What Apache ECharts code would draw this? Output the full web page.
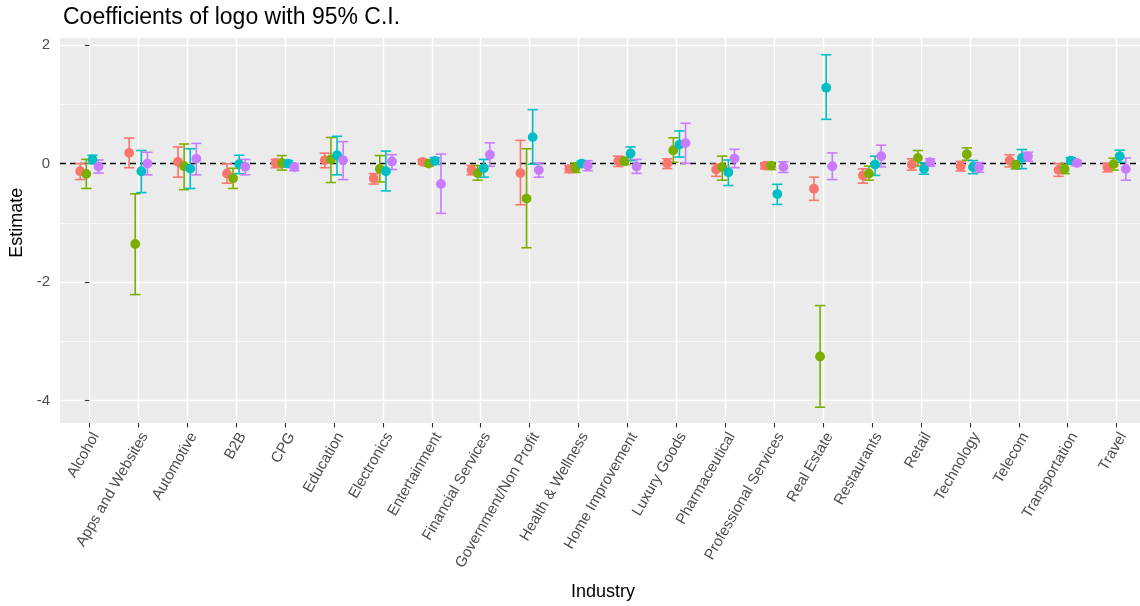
<!DOCTYPE html>
<html>
<head>
<meta charset="utf-8">
<title>Coefficients of logo with 95% C.I.</title>
<script src="https://cdn.jsdelivr.net/npm/echarts@6/dist/echarts.min.js"></script>
<style>
  html, body { margin: 0; padding: 0; background: #fff; }
  #chart { width: 1140px; height: 606px; }
</style>
</head>
<body>
<div id="chart"></div>
<script>
// Industry categories on the x axis
const categories = [
  'Alcohol', 'Apps and Websites', 'Automotive', 'B2B', 'CPG', 'Education',
  'Electronics', 'Entertainment', 'Financial Services', 'Government/Non Profit',
  'Health & Wellness', 'Home Improvement', 'Luxury Goods', 'Pharmaceutical',
  'Professional Services', 'Real Estate', 'Restaurants', 'Retail', 'Technology',
  'Telecom', 'Transportation', 'Travel'
];

// Y axis tick values
const yTicks = [-4, -2, 0, 2];

// Group 1 estimates and 95% bounds
const est1 = [-0.13, 0.18, 0.03, -0.17, 0.01, 0.055, -0.25, 0.03, -0.11, -0.16, -0.09, 0.04, 0.0, -0.10, -0.035, -0.424, -0.20, -0.017, -0.045, 0.05, -0.107, -0.06];
const lo1  = [-0.27, -0.07, -0.23, -0.33, -0.07, -0.07, -0.345, -0.01, -0.19, -0.695, -0.15, -0.05, -0.085, -0.215, -0.09, -0.62, -0.33, -0.11, -0.125, -0.056, -0.215, -0.14];
const hi1  = [0.0, 0.43, 0.28, -0.005, 0.07, 0.175, -0.17, 0.07, -0.03, 0.39, -0.035, 0.125, 0.08, -0.01, 0.01, -0.23, -0.09, 0.08, 0.035, 0.147, 0.0, 0.0];

// Group 2
const est2 = [-0.175, -1.356, -0.045, -0.25, 0.01, 0.07, -0.09, 0.0, -0.16, -0.59, -0.075, 0.04, 0.226, -0.06, -0.035, -3.254, -0.17, 0.096, 0.158, -0.017, -0.09, -0.01];
const lo2  = [-0.42, -2.21, -0.44, -0.42, -0.11, -0.32, -0.31, -0.045, -0.28, -1.42, -0.15, -0.02, 0.02, -0.28, -0.10, -4.11, -0.28, -0.04, 0.056, -0.09, -0.17, -0.11];
const hi2  = [0.07, -0.51, 0.33, -0.08, 0.135, 0.44, 0.135, 0.06, -0.035, 0.25, 0.01, 0.10, 0.435, 0.125, 0.02, -2.395, -0.045, 0.22, 0.265, 0.04, -0.01, 0.09];

// Group 3
const est3 = [0.07, -0.13, -0.085, -0.01, 0.0, 0.14, -0.13, 0.045, -0.08, 0.446, 0.0, 0.17, 0.32, -0.147, -0.514, 1.28, -0.017, -0.09, -0.06, 0.096, 0.05, 0.124];
const lo3  = [0.0, -0.49, -0.42, -0.17, -0.06, -0.19, -0.46, -0.015, -0.23, -0.01, -0.055, 0.05, 0.11, -0.37, -0.69, 0.746, -0.20, -0.18, -0.17, -0.085, 0.0, 0.023];
const hi3  = [0.14, 0.22, 0.25, 0.14, 0.05, 0.46, 0.21, 0.10, 0.07, 0.91, 0.04, 0.28, 0.55, 0.06, -0.35, 1.836, 0.125, 0.01, 0.05, 0.237, 0.10, 0.226];

// Group 4
const est4 = [-0.05, 0.0, 0.08, -0.055, -0.06, 0.055, 0.035, -0.345, 0.15, -0.11, -0.035, -0.05, 0.345, 0.085, -0.056, -0.045, 0.124, 0.023, -0.06, 0.12, 0.01, -0.09];
const lo4  = [-0.16, -0.19, -0.19, -0.19, -0.12, -0.27, -0.10, -0.84, -0.045, -0.23, -0.12, -0.165, 0.005, -0.07, -0.15, -0.27, -0.056, -0.045, -0.147, 0.04, -0.035, -0.28];
const hi4  = [0.06, 0.19, 0.34, 0.07, 0.0, 0.37, 0.15, 0.16, 0.35, 0.01, 0.05, 0.07, 0.68, 0.24, 0.03, 0.18, 0.31, 0.08, 0.017, 0.19, 0.05, 0.096];

const groups = [
  { est: est1, lo: lo1, hi: hi1 },
  { est: est2, lo: lo2, hi: hi2 },
  { est: est3, lo: lo3, hi: hi3 },
  { est: est4, lo: lo4, hi: hi4 }
];

// ggplot2 default hue palette for four groups
const colors = ['#F8766D', '#7CAE00', '#00BFC4', '#C77CFF'];
// dodge offsets (category units) and half-width of the error bar caps
const dodge = [-0.1875, -0.0625, 0.0625, 0.1875];
const capHalf = 0.105;

// rows: [category index, group index, estimate, lower, upper]
const rows = [];
groups.forEach((g, gi) => {
  categories.forEach((c, ci) => {
    rows.push([ci, gi, g.est[ci], g.lo[ci], g.hi[ci]]);
  });
});

const FONT = 'Liberation Sans, Arial, Helvetica, sans-serif';

function renderBars(params, api) {
  const gi = api.value(1);
  const x = api.value(0) + dodge[gi];
  const lo = api.value(3), hi = api.value(4);
  const pLo = api.coord([x, lo]);
  const pHi = api.coord([x, hi]);
  const capL = api.coord([x - capHalf, lo])[0];
  const capR = api.coord([x + capHalf, lo])[0];
  const style = { stroke: colors[gi], lineWidth: 1.6, fill: null };
  return {
    type: 'group',
    children: [
      { type: 'line', shape: { x1: pLo[0], y1: pLo[1], x2: pHi[0], y2: pHi[1] }, style },
      { type: 'line', shape: { x1: capL, y1: pHi[1], x2: capR, y2: pHi[1] }, style },
      { type: 'line', shape: { x1: capL, y1: pLo[1], x2: capR, y2: pLo[1] }, style }
    ]
  };
}

function renderPoints(params, api) {
  const gi = api.value(1);
  const x = api.value(0) + dodge[gi];
  const p = api.coord([x, api.value(2)]);
  return {
    type: 'circle',
    shape: { cx: p[0], cy: p[1], r: 4.9 },
    style: { fill: colors[gi], stroke: null }
  };
}

const chart = echarts.init(document.getElementById('chart'), null, { renderer: 'canvas' });

chart.setOption({
  animation: false,
  backgroundColor: '#ffffff',
  textStyle: { fontFamily: FONT },
  title: {
    text: 'Coefficients of logo with 95% C.I.',
    left: 58,
    top: 1,
    textStyle: { fontFamily: FONT, fontSize: 23, fontWeight: 'normal', color: '#000' }
  },
  grid: [
    // panel background
    { left: 60, top: 38, width: 1086, height: 385, show: true, backgroundColor: '#EBEBEB', borderWidth: 0, z: 0, outerBoundsMode: 'none', containLabel: false },
    // value scale
    { left: 60, top: 45, width: 1086, height: 355.7, z: 0, outerBoundsMode: 'none', containLabel: false },
    // category scale
    { left: 89.35, top: 38, width: 1027.3, height: 385, z: 0, outerBoundsMode: 'none', containLabel: false }
  ],
  xAxis: [
    { gridIndex: 0, type: 'value', show: false, min: 0, max: 1 },
    { gridIndex: 1, type: 'value', show: false, min: -0.6, max: 21.6 },
    {
      gridIndex: 2,
      type: 'category',
      data: categories,
      boundaryGap: false,
      z: 1,
      axisLine: { show: false },
      axisTick: { show: true, interval: 0, length: 4.5, lineStyle: { color: '#333333', width: 1.1 } },
      axisLabel: {
        interval: 0, rotate: 60, margin: 7, color: '#4D4D4D', fontSize: 15,
        fontFamily: FONT, align: 'right', verticalAlign: 'top'
      },
      splitLine: { show: true, interval: 0, lineStyle: { color: '#ffffff', width: 1.4 } },
      name: 'Industry',
      nameLocation: 'middle',
      nameGap: 160,
      nameTextStyle: { fontFamily: FONT, fontSize: 18, color: '#000' }
    }
  ],
  yAxis: [
    { gridIndex: 0, type: 'value', show: false, min: 0, max: 1 },
    {
      gridIndex: 1,
      type: 'value',
      min: yTicks[0],
      max: yTicks[yTicks.length - 1],
      interval: 2,
      z: 1,
      axisLine: { show: false },
      axisTick: { show: true, length: 4.5, lineStyle: { color: '#333333', width: 1.1 } },
      axisLabel: { margin: 10, color: '#4D4D4D', fontSize: 15, fontFamily: FONT },
      splitLine: { show: true, lineStyle: { color: '#ffffff', width: 1.4 } },
      minorTick: { show: false, splitNumber: 2 },
      minorSplitLine: { show: true, lineStyle: { color: '#ffffff', width: 0.7 } },
      name: 'Estimate',
      nameLocation: 'middle',
      nameGap: 31,
      nameTextStyle: { fontFamily: FONT, fontSize: 18, color: '#000' }
    },
    { gridIndex: 2, type: 'value', show: false, min: 0, max: 1 }
  ],
  series: [
    {
      name: 'ci',
      type: 'custom',
      xAxisIndex: 1,
      yAxisIndex: 1,
      z: 5,
      clip: false,
      silent: true,
      renderItem: renderBars,
      data: rows
    },
    {
      name: 'estimate',
      type: 'custom',
      xAxisIndex: 1,
      yAxisIndex: 1,
      z: 6,
      clip: false,
      silent: true,
      renderItem: renderPoints,
      data: rows
    },
    {
      name: 'zero',
      type: 'line',
      xAxisIndex: 1,
      yAxisIndex: 1,
      z: 8,
      data: [],
      markLine: {
        silent: true,
        symbol: ['none', 'none'],
        label: { show: false },
        lineStyle: { color: '#000000', width: 1.3, type: [6, 4] },
        data: [{ yAxis: 0 }]
      }
    }
  ]
});
</script>
</body>
</html>
